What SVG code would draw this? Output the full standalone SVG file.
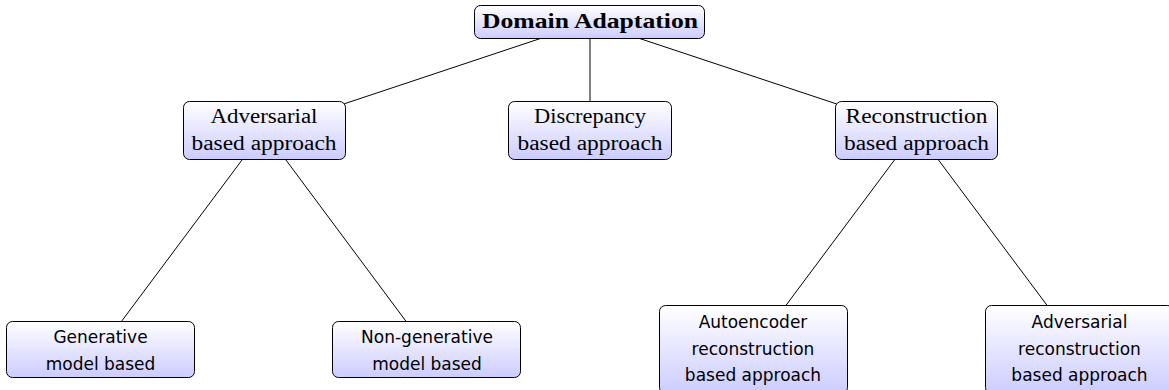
<svg xmlns="http://www.w3.org/2000/svg" width="1169" height="390" viewBox="0 0 1169 390">
<style>
.box{stroke:#000;stroke-width:1;fill:url(#g)}
.edge{stroke:#000;stroke-width:1;fill:none}
.serif{font-family:"Liberation Serif","Times New Roman",serif;font-size:20px;fill:#000}
.bold{font-weight:bold;font-size:21px}
.sans{font-family:"DejaVu Sans","Liberation Sans",sans-serif;font-size:17px;fill:#000}
text{text-anchor:middle}
</style>
<defs>
<linearGradient id="g" x1="0" y1="0" x2="0" y2="1">
<stop offset="0" stop-color="#ffffff"/>
<stop offset="1" stop-color="#ccccff"/>
</linearGradient>
</defs>
<rect width="1169" height="390" fill="#fff"/>
<g id="connectors">
<line class="edge" x1="590" y1="22" x2="264" y2="130.5"/>
<line class="edge" x1="590" y1="22" x2="590" y2="130.5"/>
<line class="edge" x1="590" y1="22" x2="916.5" y2="130.5"/>
<line class="edge" x1="264" y1="130.5" x2="100.5" y2="349.5"/>
<line class="edge" x1="264" y1="130.5" x2="427" y2="349.5"/>
<line class="edge" x1="916.5" y1="130.5" x2="753" y2="349.5"/>
<line class="edge" x1="916.5" y1="130.5" x2="1080" y2="349.5"/>
</g>
<g id="root">
<rect class="box" x="474.5" y="5.5" width="230" height="33" rx="6"/>
<text class="serif bold" x="590" y="28" textLength="216" lengthAdjust="spacingAndGlyphs">Domain Adaptation</text>
</g>
<g id="adversarial">
<rect class="box" x="183.5" y="101.5" width="162" height="58" rx="6"/>
<text class="serif" x="264" y="123" textLength="107" lengthAdjust="spacingAndGlyphs">Adversarial</text>
<text class="serif" x="264" y="150" textLength="145" lengthAdjust="spacingAndGlyphs">based approach</text>
</g>
<g id="discrepancy">
<rect class="box" x="508.5" y="101.5" width="163" height="58" rx="6"/>
<text class="serif" x="590" y="123" textLength="112" lengthAdjust="spacingAndGlyphs">Discrepancy</text>
<text class="serif" x="590" y="150" textLength="145" lengthAdjust="spacingAndGlyphs">based approach</text>
</g>
<g id="reconstruction">
<rect class="box" x="835.5" y="101.5" width="162" height="58" rx="6"/>
<text class="serif" x="916.5" y="123" textLength="142" lengthAdjust="spacingAndGlyphs">Reconstruction</text>
<text class="serif" x="916.5" y="150" textLength="145" lengthAdjust="spacingAndGlyphs">based approach</text>
</g>
<g id="generative">
<rect class="box" x="6.5" y="321.5" width="188" height="56" rx="6"/>
<text class="sans" x="100.5" y="343">Generative</text>
<text class="sans" x="100.5" y="370">model based</text>
</g>
<g id="nongenerative">
<rect class="box" x="332.5" y="321.5" width="188" height="56" rx="6"/>
<text class="sans" x="427" y="343">Non-generative</text>
<text class="sans" x="427" y="370">model based</text>
</g>
<g id="autoencoder">
<rect class="box" x="659.5" y="305.5" width="188" height="88" rx="6"/>
<text class="sans" x="753" y="328">Autoencoder</text>
<text class="sans" x="753" y="354.5">reconstruction</text>
<text class="sans" x="753" y="381">based approach</text>
</g>
<g id="adversarialreconstruction">
<rect class="box" x="985.5" y="305.5" width="188" height="88" rx="6"/>
<text class="sans" x="1079.5" y="328">Adversarial</text>
<text class="sans" x="1079.5" y="354.5">reconstruction</text>
<text class="sans" x="1079.5" y="381">based approach</text>
</g>
</svg>
